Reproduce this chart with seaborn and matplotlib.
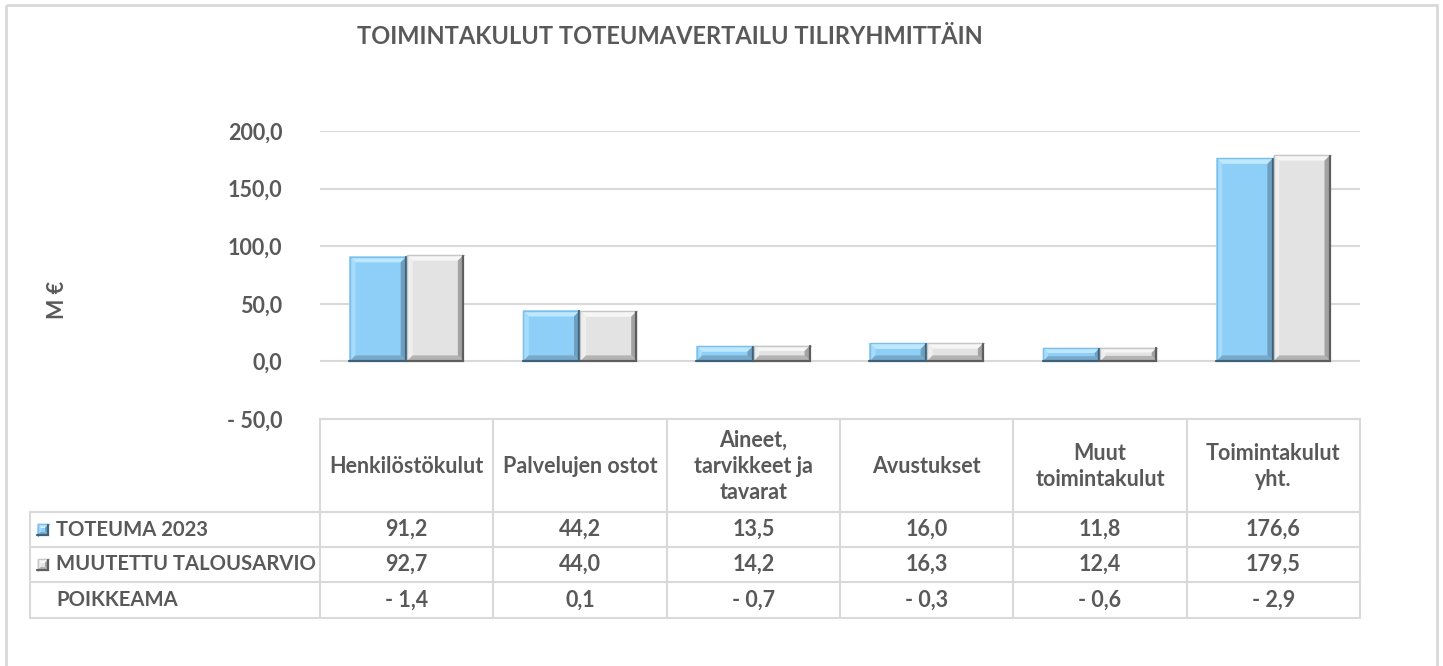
import matplotlib
matplotlib.use("Agg")
import matplotlib.pyplot as plt
import seaborn as sns
import pandas as pd
from matplotlib.patches import Polygon, Rectangle
from matplotlib.ticker import FuncFormatter

# data
categories = ["Henkilöstökulut", "Palvelujen ostot", "Aineet,\ntarvikkeet ja\ntavarat",
              "Avustukset", "Muut\ntoimintakulut", "Toimintakulut\nyht."]
toteuma = [91.2, 44.2, 13.5, 16.0, 11.8, 176.6]
talousarvio = [92.7, 44.0, 14.2, 16.3, 12.4, 179.5]
poikkeama = [-1.4, 0.1, -0.7, -0.3, -0.6, -2.9]
series = ["TOTEUMA 2023", "MUUTETTU TALOUSARVIO"]

df = pd.DataFrame({
    "kategoria": categories * 2,
    "arvo": toteuma + talousarvio,
    "sarja": [series[0]] * 6 + [series[1]] * 6,
})

def fmt(v):
    s = f"{abs(v):.1f}".replace(".", ",")
    return "- " + s if v < 0 else s

W, H = 1443, 666
TXT = "#595959"
GRID = "#D9D9D9"
BLUE = "#8ECFF8"
GRAY = "#E3E3E3"
FS = 15.5

sns.set_style("white")
plt.rcParams["font.family"] = ["Lato", "DejaVu Sans"]
plt.rcParams["font.weight"] = "bold"

fig = plt.figure(figsize=(W / 100, H / 100), dpi=100)
ax = fig.add_axes([320 / W, (H - 419) / H, 1040 / W, 288 / H])
sns.barplot(data=df, x="kategoria", y="arvo", hue="sarja", palette=[BLUE, GRAY],
            saturation=1, width=0.66, linewidth=0, legend=False, ax=ax)
ax.set_ylim(-50, 200)
ax.set_xlim(-0.5, 5.5)
ax.set_yticks([-50, 0, 50, 100, 150, 200])
ax.yaxis.set_major_formatter(FuncFormatter(lambda v, p: fmt(v)))
ax.tick_params(axis="y", length=0, pad=27, labelsize=FS, labelcolor=TXT)
ax.set_xticks([])
ax.set_xlabel("")
ax.set_ylabel("")
ax.set_axisbelow(True)
ax.grid(axis="y", color=GRID, linewidth=1.5)
sns.despine(ax=ax, left=True, bottom=True, top=True, right=True)
for lbl in ax.get_yticklabels():
    lbl.set_fontweight("bold")

# overlay in pixel coordinates
ov = fig.add_axes([0, 0, 1, 1])
ov.set_xlim(0, W)
ov.set_ylim(H, 0)
ov.axis("off")

def to_px(x, y):
    dx, dy = ax.transData.transform((x, y))
    return dx, H - dy

def bevel(x0, y0, x1, y1, cols, b=6):
    b = min(b, (y1 - y0) / 2.6, (x1 - x0) / 3)
    top, left, right, bottom, edge, rim = cols
    ov.add_patch(Polygon([(x0, y0), (x1, y0), (x1 - b, y0 + b), (x0 + b, y0 + b)], closed=True, fc=top, lw=0))
    ov.add_patch(Polygon([(x0, y0), (x0 + b, y0 + b), (x0 + b, y1 - b), (x0, y1)], closed=True, fc=left, lw=0))
    ov.add_patch(Polygon([(x1, y0), (x1, y1), (x1 - b, y1 - b), (x1 - b, y0 + b)], closed=True, fc=right, lw=0))
    ov.add_patch(Polygon([(x0, y1), (x1, y1), (x1 - b, y1 - b), (x0 + b, y1 - b)], closed=True, fc=bottom, lw=0))
    ov.plot([x0 + 0.5, x0 + 0.5, x1], [y1, y0 + 0.5, y0 + 0.5], color=rim, lw=1.0,
            solid_joinstyle="miter")
    ov.plot([x1 - 0.8, x1 - 0.8, x0], [y0 + 1, y1 - 0.8, y1 - 0.8], color=edge, lw=1.6,
            solid_joinstyle="miter")

BLUE_BEV = ("#BDE8FE", "#A6DCFB", "#6E9FBF", "#79A9C8", "#3E627C", "#7DBEE6")
GRAY_BEV = ("#F6F6F6", "#EFEFEF", "#A2A2A2", "#B3B3B3", "#5E5E5E", "#C6C6C6")

for p in ax.patches:
    x = p.get_x()
    w = p.get_width()
    h = p.get_height()
    if w == 0 or h == 0:
        continue
    x0, y0 = to_px(x, h)
    x1, y1 = to_px(x + w, 0)
    fc = matplotlib.colors.to_hex(p.get_facecolor())
    bevel(x0, y0, x1, y1, BLUE_BEV if fc.lower() == BLUE.lower() else GRAY_BEV)

# title and axis label
ov.text(670, 37, "TOIMINTAKULUT TOTEUMAVERTAILU TILIRYHMITTÄIN", ha="center", va="center",
        fontsize=17, fontweight="bold", color=TXT)
ov.text(58, 300, "M €", ha="center", va="center", rotation=90, fontsize=FS,
        fontweight="bold", color=TXT)

# outer border
ov.add_patch(Rectangle((6, 5), 1431, 700, fill=False, ec=GRID, lw=2))

# data table
col_edges = [to_px(i - 0.5, 0)[0] for i in range(len(categories) + 1)]
y_top = to_px(0, -50)[1]
row_y = [y_top, 512, 547, 582, 618]
left = 30
lk = dict(color=GRID, lw=1.5)
ov.plot([col_edges[0], col_edges[-1]], [y_top, y_top], **lk)
for y in row_y[1:]:
    ov.plot([left, col_edges[-1]], [y, y], **lk)
for xe in col_edges:
    ov.plot([xe, xe], [y_top, row_y[-1]], **lk)
ov.plot([left, left], [row_y[1], row_y[-1]], **lk)

tk = dict(fontsize=FS, fontweight="bold", color=TXT)
for i, cat in enumerate(categories):
    cx = (col_edges[i] + col_edges[i + 1]) / 2
    ov.text(cx, (row_y[0] + row_y[1]) / 2 + 1, cat, ha="center", va="center",
            linespacing=1.3, **tk)
    for r, vals in enumerate([toteuma, talousarvio, poikkeama]):
        ov.text(cx, (row_y[r + 1] + row_y[r + 2]) / 2, fmt(vals[i]),
                ha="center", va="center", **tk)

row_labels = series + ["POIKKEAMA"]
for r, lab in enumerate(row_labels):
    cy = (row_y[r + 1] + row_y[r + 2]) / 2
    ov.text(56, cy, lab, ha="left", va="center", fontsize=14.6, fontweight="bold", color=TXT)
    if r < 2:
        bevel(37, cy - 6, 49, cy + 6, BLUE_BEV if r == 0 else GRAY_BEV, b=4)
        ov.add_patch(Rectangle((41, cy - 2), 4, 4, fc=BLUE if r == 0 else GRAY, lw=0))

fig.savefig("out.png", dpi=100)
